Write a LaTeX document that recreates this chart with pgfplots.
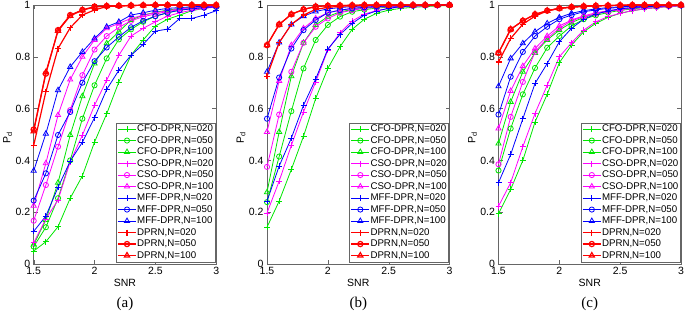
\documentclass[border=0pt]{standalone}
\usepackage{fontspec}
\setmainfont{Liberation Sans}
\newfontfamily\capfont{Liberation Serif}
\usepackage{pgfplots}
\usepackage{pgfplotstable}
\pgfplotsset{compat=1.18}

\pgfplotstableread{
x    c20   c50   c100  s20   s50   s100  m20   m50   m100  d20   d50   d100
1.5  0.050 0.067 0.075 0.082 0.167 0.225 0.126 0.245 0.360 0.458 0.519 0.512
1.6  0.086 0.142 0.170 0.174 0.305 0.389 0.185 0.350 0.503 0.665 0.735 0.740
1.7  0.144 0.254 0.314 0.247 0.453 0.575 0.296 0.498 0.671 0.832 0.903 0.900
1.8  0.254 0.400 0.498 0.395 0.594 0.712 0.397 0.587 0.761 0.912 0.961 0.958
1.9  0.340 0.561 0.648 0.497 0.729 0.800 0.470 0.700 0.819 0.961 0.981 0.980
2.0  0.471 0.690 0.774 0.613 0.828 0.865 0.565 0.783 0.871 0.981 0.994 0.992
2.1  0.580 0.794 0.852 0.710 0.880 0.910 0.674 0.836 0.916 0.994 0.996 0.996
2.2  0.703 0.867 0.897 0.806 0.914 0.929 0.748 0.877 0.935 0.996 0.997 0.997
2.3  0.806 0.906 0.942 0.880 0.939 0.948 0.806 0.914 0.961 0.998 0.998 0.998
2.4  0.865 0.935 0.961 0.910 0.955 0.961 0.848 0.939 0.970 0.999 0.999 0.999
2.5  0.919 0.957 0.972 0.935 0.965 0.970 0.899 0.957 0.980 0.999 1.000 1.000
2.6  0.945 0.970 0.980 0.957 0.975 0.978 0.907 0.970 0.987 1.000 1.000 1.000
2.7  0.961 0.980 0.987 0.970 0.982 0.985 0.948 0.980 0.990 1.000 1.000 1.000
2.8  0.978 0.987 0.990 0.980 0.987 0.990 0.948 0.985 0.993 1.000 1.000 1.000
2.9  0.987 0.990 0.993 0.987 0.990 0.993 0.961 0.990 0.995 1.000 1.000 1.000
3.0  0.996 0.993 0.995 0.992 0.994 0.995 0.978 0.993 0.997 1.000 1.000 1.000
}\tabA

\pgfplotstableread{
x    c20   c50   c100  s20   s50   s100  m20   m50   m100  d20   d50   d100
1.5  0.142 0.239 0.277 0.197 0.375 0.510 0.243 0.561 0.742 0.725 0.845 0.845
1.6  0.243 0.415 0.510 0.320 0.577 0.707 0.378 0.720 0.855 0.855 0.925 0.925
1.7  0.365 0.590 0.725 0.458 0.742 0.845 0.486 0.832 0.925 0.925 0.964 0.964
1.8  0.493 0.755 0.854 0.587 0.854 0.910 0.613 0.903 0.957 0.961 0.983 0.983
1.9  0.639 0.865 0.923 0.703 0.916 0.948 0.714 0.942 0.975 0.983 0.994 0.994
2.0  0.755 0.923 0.955 0.826 0.948 0.970 0.830 0.970 0.985 0.991 0.997 0.997
2.1  0.839 0.955 0.974 0.893 0.970 0.980 0.886 0.980 0.990 0.995 0.998 0.998
2.2  0.906 0.974 0.982 0.938 0.980 0.987 0.929 0.987 0.994 0.997 0.999 0.999
2.3  0.945 0.982 0.988 0.965 0.987 0.991 0.961 0.991 0.996 0.998 1.000 1.000
2.4  0.968 0.988 0.992 0.978 0.991 0.994 0.977 0.994 0.997 0.999 1.000 1.000
2.5  0.980 0.992 0.995 0.987 0.994 0.996 0.987 0.996 0.998 1.000 1.000 1.000
2.6  0.987 0.995 0.997 0.992 0.996 0.997 0.994 0.997 0.999 1.000 1.000 1.000
2.7  0.991 0.997 0.998 0.995 0.997 0.998 0.996 0.998 0.999 1.000 1.000 1.000
2.8  0.994 0.998 0.999 0.997 0.998 0.999 0.998 0.999 1.000 1.000 1.000 1.000
2.9  0.996 0.999 0.999 0.998 0.999 0.999 0.999 0.999 1.000 1.000 1.000 1.000
3.0  0.998 0.999 1.000 0.999 1.000 1.000 0.999 1.000 1.000 1.000 1.000 1.000
}\tabB

\pgfplotstableread{
x    c20   c50   c100  s20   s50   s100  m20   m50   m100  d20   d50   d100
1.5  0.194 0.361 0.465 0.223 0.385 0.523 0.314 0.577 0.686 0.780 0.815 0.815
1.6  0.288 0.523 0.626 0.314 0.568 0.668 0.423 0.723 0.794 0.871 0.906 0.906
1.7  0.400 0.655 0.742 0.453 0.703 0.764 0.561 0.819 0.852 0.926 0.939 0.939
1.8  0.548 0.757 0.815 0.581 0.819 0.832 0.697 0.880 0.897 0.957 0.964 0.964
1.9  0.655 0.835 0.865 0.690 0.871 0.880 0.774 0.916 0.929 0.977 0.978 0.978
2.0  0.777 0.880 0.903 0.800 0.910 0.919 0.858 0.945 0.952 0.987 0.987 0.987
2.1  0.845 0.919 0.932 0.854 0.939 0.942 0.910 0.961 0.968 0.992 0.992 0.992
2.2  0.897 0.945 0.952 0.903 0.955 0.958 0.945 0.974 0.978 0.995 0.995 0.995
2.3  0.929 0.960 0.966 0.935 0.966 0.970 0.965 0.981 0.985 0.997 0.997 0.997
2.4  0.952 0.971 0.976 0.955 0.975 0.978 0.977 0.987 0.990 0.998 0.998 0.998
2.5  0.968 0.979 0.983 0.968 0.982 0.984 0.985 0.991 0.993 0.999 0.999 0.999
2.6  0.978 0.985 0.988 0.978 0.987 0.989 0.990 0.994 0.995 1.000 1.000 1.000
2.7  0.985 0.990 0.992 0.985 0.991 0.992 0.993 0.996 0.997 1.000 1.000 1.000
2.8  0.990 0.993 0.995 0.990 0.994 0.995 0.995 0.997 0.998 1.000 1.000 1.000
2.9  0.994 0.996 0.997 0.994 0.996 0.997 0.997 0.998 0.999 1.000 1.000 1.000
3.0  0.997 0.998 0.998 0.997 0.998 0.998 0.998 0.999 0.999 1.000 1.000 1.000
}\tabC

\definecolor{cG}{RGB}{0,230,0}
\definecolor{cM}{RGB}{255,0,255}
\definecolor{cB}{RGB}{0,0,255}
\definecolor{cR}{RGB}{255,0,0}

\pgfplotsset{
  panel/.style={
    scale only axis, width=182.5pt, height=259pt,
    xmin=1.5, xmax=3, ymin=0, ymax=1,
    xtick={1.5,2,2.5,3}, ytick={0,0.2,0.4,0.6,0.8,1},
    tick align=inside, major tick length=4pt,
    axis line style={black!60}, tick style={black!60},
    ticklabel style={font=\fontsize{10.5}{12}\selectfont},
    /pgf/number format/assume math mode=true,
    clip=false,
    xlabel={SNR}, ylabel={P\textsubscript{d}},
    label style={font=\fontsize{10.5}{12}\selectfont},
    xlabel style={at={(axis description cs:0.5,0)}, anchor=center, yshift=-19pt},
    ylabel style={at={(axis description cs:0,0.5)}, anchor=center, yshift=26pt, xshift=-3pt},
    legend style={at={(axis description cs:1,0)}, anchor=south east, xshift=-1pt, yshift=2pt,
      draw=black!60, fill=white, font=\fontsize{9.7}{11}\selectfont,
      inner sep=1pt, row sep=1pt,
      nodes={inner sep=0.5pt, text height=7.3pt, text depth=2.2pt}},
    legend cell align=left,
    legend image code/.code={\draw[mark repeat=2,mark phase=2] plot coordinates {(0cm,0cm)(0.32cm,0cm)(0.64cm,0cm)};},
    every axis plot/.append style={line width=0.8pt, mark options={solid}},
  },
  lg/.style={color=cG}, lm/.style={color=cM}, lb/.style={color=cB}, lr/.style={color=cR, line width=1.2pt},
  pl/.style={mark=+, mark size=3pt},
  ci/.style={mark=o, mark size=2.6pt},
  tr/.style={mark=triangle, mark size=3pt},
}

\newcommand{\drawall}[1]{%
  \addplot[lg,pl] table[x=x,y=c20]{#1};
  \addplot[lg,ci] table[x=x,y=c50]{#1};
  \addplot[lg,tr] table[x=x,y=c100]{#1};
  \addplot[lm,pl] table[x=x,y=s20]{#1};
  \addplot[lm,ci] table[x=x,y=s50]{#1};
  \addplot[lm,tr] table[x=x,y=s100]{#1};
  \addplot[lb,pl] table[x=x,y=m20]{#1};
  \addplot[lb,ci] table[x=x,y=m50]{#1};
  \addplot[lb,tr] table[x=x,y=m100]{#1};
  \addplot[lr,pl] table[x=x,y=d20]{#1};
  \addplot[lr,ci] table[x=x,y=d50]{#1};
  \addplot[lr,tr] table[x=x,y=d100]{#1};
  \legend{{CFO-DPR,N=020},{CFO-DPR,N=050},{CFO-DPR,N=100},
          {CSO-DPR,N=020},{CSO-DPR,N=050},{CSO-DPR,N=100},
          {MFF-DPR,N=020},{MFF-DPR,N=050},{MFF-DPR,N=100},
          {DPRN,N=020},{DPRN,N=050},{DPRN,N=100}}
}

\begin{document}
\begin{tikzpicture}[x=1pt,y=1pt]
\useasboundingbox (0,0) rectangle (685,313);
\begin{axis}[panel, at={(33.7pt,49pt)}, anchor=south west]
\drawall{\tabA}
\node[font=\capfont\fontsize{15}{16}\selectfont] at (axis description cs:0.5,0) [yshift=-40pt] {(a)};
\end{axis}
\begin{axis}[panel, at={(267pt,49pt)}, anchor=south west]
\drawall{\tabB}
\node[font=\capfont\fontsize{15}{16}\selectfont] at (axis description cs:0.5,0) [yshift=-40pt] {(b)};
\end{axis}
\begin{axis}[panel, at={(498.5pt,49pt)}, anchor=south west]
\drawall{\tabC}
\node[font=\capfont\fontsize{15}{16}\selectfont] at (axis description cs:0.5,0) [yshift=-40pt] {(c)};
\end{axis}
\end{tikzpicture}
\end{document}
